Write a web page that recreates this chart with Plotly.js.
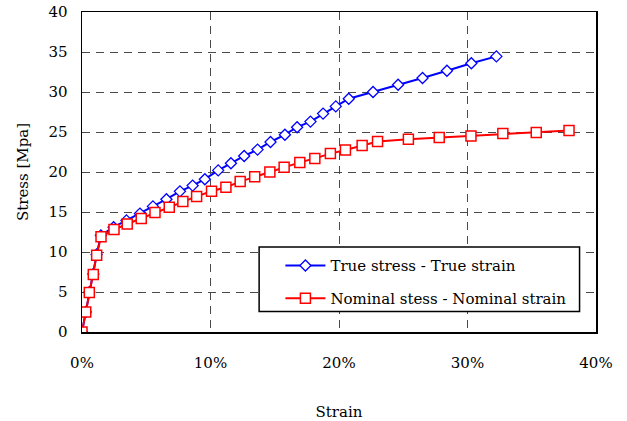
<!DOCTYPE html>
<html>
<head>
<meta charset="utf-8">
<script src="https://cdn.plot.ly/plotly-3.0.1.min.js"></script>
<style>
  html, body { margin: 0; padding: 0; background: #fff; }
  #chart { width: 627px; height: 421px; }
</style>
</head>
<body>
<div id="chart"></div>
<script>
// Strain as a fraction, stress in MPa
const trueStrain = [0, 0.0029, 0.0057, 0.0088, 0.0114, 0.0147, 0.0246, 0.0346, 0.0451, 0.0552, 0.0657,
  0.0762, 0.0861, 0.0956, 0.1060, 0.1159, 0.1262, 0.1366, 0.1467, 0.1579, 0.1674, 0.1778,
  0.1876, 0.1975, 0.2076, 0.2265, 0.2460, 0.2650, 0.2840, 0.3030, 0.3225];
const trueStress = [0, 2.5, 4.98, 7.26, 9.7, 12.08, 13.1, 13.95, 14.8, 15.7, 16.6,
  17.58, 18.3, 19.1, 20.2, 21.1, 22.0, 22.8, 23.75, 24.66, 25.6, 26.3,
  27.3, 28.2, 29.16, 30.0, 30.9, 31.75, 32.66, 33.6, 34.45];

const nominalStrain = [0, 0.0029, 0.0057, 0.0088, 0.0114, 0.0148, 0.0249, 0.0352, 0.0461, 0.0568, 0.0679,
  0.0785, 0.0892, 0.1008, 0.1120, 0.1231, 0.1344, 0.1462, 0.1573, 0.1695, 0.1812, 0.1933,
  0.2050, 0.2180, 0.2300, 0.2540, 0.2780, 0.3027, 0.3275, 0.3535, 0.3790];
const nominalStress = [0, 2.5, 4.95, 7.2, 9.6, 11.9, 12.8, 13.5, 14.2, 14.95, 15.6,
  16.3, 16.95, 17.6, 18.1, 18.8, 19.4, 20.0, 20.6, 21.2, 21.7, 22.3,
  22.75, 23.3, 23.8, 24.1, 24.3, 24.5, 24.8, 24.95, 25.2];

const xTicks = [0, 0.1, 0.2, 0.3, 0.4];
const xTickText = ['0%', '10%', '20%', '30%', '40%'];
const yTicks = [0, 5, 10, 15, 20, 25, 30, 35, 40];

const serif = 'DejaVu Serif';

const traces = [
  {
    x: trueStrain, y: trueStress,
    name: 'True stress - True strain',
    legend: 'legend',
    mode: 'lines+markers',
    line: { color: '#0000ff', width: 2 },
    marker: { symbol: 'diamond', size: 8.5, color: '#ffffff', line: { color: '#0000ff', width: 1.3 } }
  },
  {
    x: nominalStrain, y: nominalStress,
    name: 'Nominal stess - Nominal strain',
    legend: 'legend2',
    mode: 'lines+markers',
    line: { color: '#ff0000', width: 2 },
    marker: { symbol: 'square', size: 10, color: '#ffffff', line: { color: '#ff0000', width: 1.5 } }
  }
];

const legendBase = {
  x: 0.386, xanchor: 'left', yanchor: 'middle',
  bgcolor: 'rgba(0,0,0,0)', borderwidth: 0,
  font: { family: serif, size: 15, color: '#000' },
  itemwidth: 40
};

const layout = {
  width: 627, height: 421,
  margin: { l: 82, r: 30.5, t: 12.3, b: 88.7 },
  paper_bgcolor: '#ffffff',
  plot_bgcolor: '#ffffff',
  font: { family: serif, size: 15, color: '#000' },
  showlegend: true,
  legend: Object.assign({}, legendBase, { y: 0.207 }),
  legend2: Object.assign({}, legendBase, { y: 0.105 }),
  // legend frame
  shapes: [{
    type: 'rect', xref: 'paper', yref: 'paper',
    x0: 0.3446, x1: 0.968, y0: 0.064, y1: 0.266,
    line: { color: '#000', width: 1.5 }, fillcolor: '#ffffff', layer: 'above'
  }],
  xaxis: {
    range: [0, 0.4],
    tickvals: xTicks, ticktext: xTickText,
    showline: true, mirror: true, linecolor: '#000', linewidth: 1.5,
    showgrid: true, gridcolor: '#4a4a4a', gridwidth: 1, griddash: '8px,6px',
    zeroline: false, ticks: '',
    ticklabelstandoff: 16,
    title: { text: 'Strain', font: { family: serif, size: 15 }, standoff: 37 },
    automargin: false
  },
  yaxis: {
    range: [0, 40],
    tickvals: yTicks,
    showline: true, mirror: true, linecolor: '#000', linewidth: 1.5,
    showgrid: true, gridcolor: '#4a4a4a', gridwidth: 1, griddash: '8px,6px',
    zeroline: false, ticks: '',
    ticklabelstandoff: 10,
    title: { text: 'Stress [Mpa]', font: { family: serif, size: 15 }, standoff: 16 },
    automargin: false
  }
};

Plotly.newPlot('chart', traces, layout, { displayModeBar: false, staticPlot: true });
</script>
</body>
</html>
